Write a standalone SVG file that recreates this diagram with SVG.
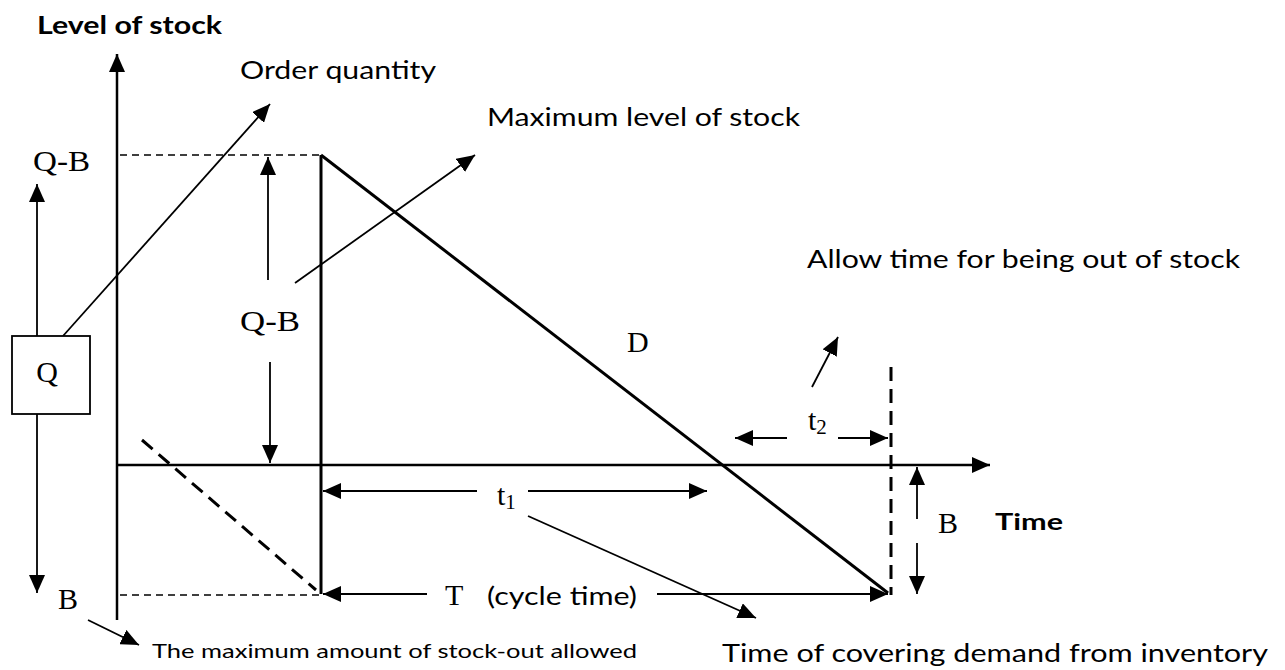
<svg xmlns="http://www.w3.org/2000/svg" width="1285" height="670" viewBox="0 0 1285 670">
<style>
.sans{font-family:Lato,"Liberation Sans",sans-serif;fill:#000}
.serif{font-family:"Liberation Serif","Times New Roman",serif;fill:#000;font-size:30px}
.ax{stroke:#000;stroke-width:2.5;fill:none}
.thick{stroke:#000;stroke-width:3;fill:none}
.thin{stroke:#000;stroke-width:1.8;fill:none}
.dash{stroke:#000;stroke-width:1.6;stroke-dasharray:7 5;fill:none}
.bigdash{stroke:#000;stroke-width:3;stroke-dasharray:14 8;fill:none}
</style>
<defs>
<marker id="ah" markerUnits="userSpaceOnUse" markerWidth="20" markerHeight="16" viewBox="0 0 20 16" refX="18" refY="8" orient="auto">
<path d="M0,0 L18,8 L0,16 Z" fill="#000"/>
</marker>
</defs>
<rect width="1285" height="670" fill="#fff"/>
<g id="axes">
<line class="ax" x1="117" y1="620" x2="117" y2="54" marker-end="url(#ah)"/>
<line class="ax" x1="117" y1="465" x2="990" y2="465" marker-end="url(#ah)"/>
</g>
<g id="connectors">
<line class="dash" x1="120" y1="155" x2="320" y2="155"/>
<line class="dash" x1="120" y1="595" x2="320" y2="595"/>
<line class="thick" x1="321" y1="155" x2="321" y2="594"/>
<line class="thick" x1="321" y1="155" x2="888" y2="593"/>
<line class="bigdash" x1="142" y1="440" x2="316" y2="590"/>
<line class="bigdash" x1="891" y1="367" x2="891" y2="595"/>
<line class="thin" x1="268" y1="280" x2="268" y2="157" marker-end="url(#ah)"/>
<line class="thin" x1="270" y1="362" x2="270" y2="463" marker-end="url(#ah)"/>
<line class="thin" x1="37" y1="336" x2="37" y2="184" marker-end="url(#ah)"/>
<line class="thin" x1="37" y1="414" x2="37" y2="593" marker-end="url(#ah)"/>
<line class="thin" x1="63" y1="336" x2="270" y2="104" marker-end="url(#ah)"/>
<line class="thin" x1="295" y1="283" x2="475" y2="155" marker-end="url(#ah)"/>
<line class="thin" x1="477" y1="491" x2="323" y2="491" marker-end="url(#ah)"/>
<line class="thin" x1="528" y1="491" x2="707" y2="491" marker-end="url(#ah)"/>
<line class="thin" x1="427" y1="594" x2="323" y2="594" marker-end="url(#ah)"/>
<line class="thin" x1="657" y1="594" x2="888" y2="594" marker-end="url(#ah)"/>
<line class="thin" x1="787" y1="438" x2="735" y2="438" marker-end="url(#ah)"/>
<line class="thin" x1="838" y1="438" x2="888" y2="438" marker-end="url(#ah)"/>
<line class="thin" x1="917" y1="519" x2="917" y2="467" marker-end="url(#ah)"/>
<line class="thin" x1="917" y1="543" x2="917" y2="594" marker-end="url(#ah)"/>
<line class="thin" x1="528" y1="516" x2="756" y2="618" marker-end="url(#ah)"/>
<line class="thin" x1="812" y1="387" x2="838" y2="337" marker-end="url(#ah)"/>
<line class="thin" x1="88" y1="620" x2="139" y2="645" marker-end="url(#ah)"/>
</g>
<g id="node-q">
<rect x="12" y="336" width="78" height="78" fill="#fff" stroke="#000" stroke-width="1.8"/>
<text class="serif" x="47" y="382" text-anchor="middle">Q</text>
</g>
<g id="labels">
<text class="sans" x="37" y="34" font-size="25" font-weight="bold" textLength="185" lengthAdjust="spacingAndGlyphs">Level of stock</text>
<text class="sans" x="240" y="79" font-size="25" textLength="196" lengthAdjust="spacingAndGlyphs">Order quantity</text>
<text class="sans" x="487" y="126" font-size="25" textLength="313" lengthAdjust="spacingAndGlyphs">Maximum level of stock</text>
<text class="sans" x="807" y="268" font-size="25" textLength="433" lengthAdjust="spacingAndGlyphs">Allow time for being out of stock</text>
<text class="sans" x="995" y="530" font-size="23" font-weight="bold" textLength="68" lengthAdjust="spacingAndGlyphs">Time</text>
<text class="sans" x="152" y="658" font-size="20" textLength="485" lengthAdjust="spacingAndGlyphs">The maximum amount of stock-out allowed</text>
<text class="sans" x="722" y="662" font-size="25" textLength="546" lengthAdjust="spacingAndGlyphs">Time of covering demand from inventory</text>
<text class="sans" x="487" y="605" font-size="25" textLength="150" lengthAdjust="spacingAndGlyphs">(cycle time)</text>
<text class="serif" x="33" y="171" textLength="57" lengthAdjust="spacingAndGlyphs">Q-B</text>
<text class="serif" x="240" y="331" textLength="60" lengthAdjust="spacingAndGlyphs">Q-B</text>
<text class="serif" x="58" y="609">B</text>
<text class="serif" x="938" y="533">B</text>
<text class="serif" x="627" y="352">D</text>
<text class="serif" x="445" y="605">T</text>
<text class="serif" x="497" y="505">t<tspan font-size="21" dy="4">1</tspan></text>
<text class="serif" x="808" y="430">t<tspan font-size="21" dy="4">2</tspan></text>
</g>
</svg>
